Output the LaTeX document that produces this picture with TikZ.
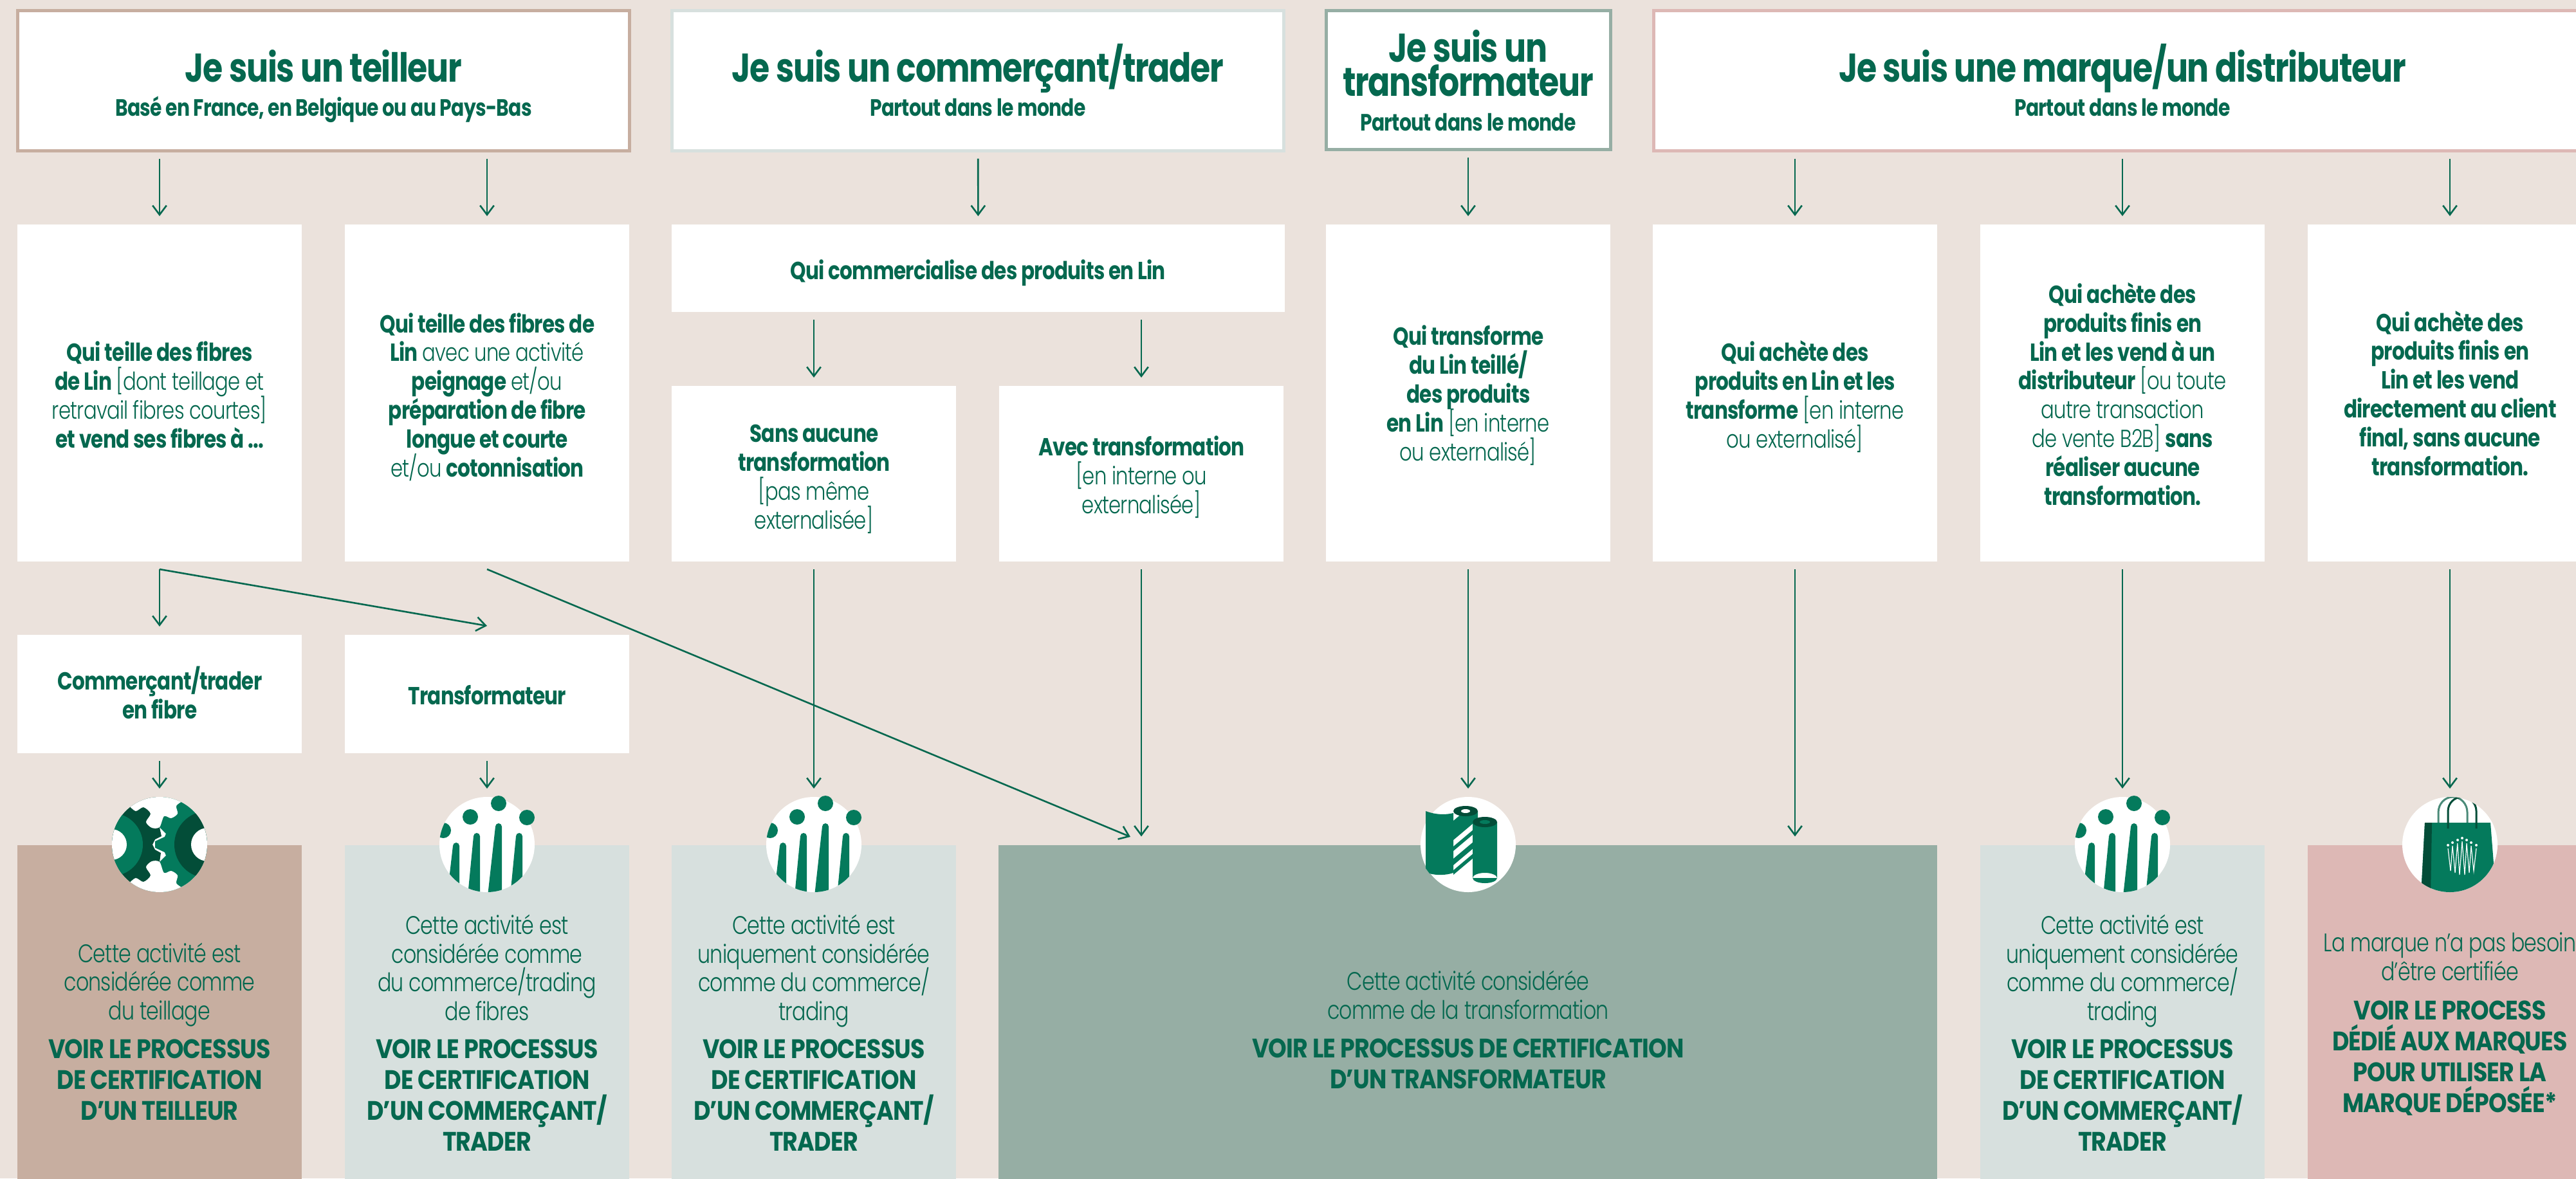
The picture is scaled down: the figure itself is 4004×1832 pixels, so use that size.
\documentclass[tikz,border=0pt]{standalone}
\usepackage{fontspec}
\setmainfont[FakeStretch=.8,LetterSpace=-2,BoldFont={Poppins Bold},BoldFeatures={FakeStretch=.81}]{Poppins Light}
\newfontfamily\capsf[FakeStretch=.875,LetterSpace=-2]{Poppins Bold}
\usetikzlibrary{arrows.meta,calc}
\definecolor{leaf}{HTML}{05684F}
\definecolor{iconleaf}{HTML}{047A5C}
\definecolor{icondark}{HTML}{034D38}
\definecolor{handle}{HTML}{4A8A78}
\definecolor{paper}{HTML}{EBE2DC}
\definecolor{flax}{HTML}{C7AEA0}
\definecolor{mist}{HTML}{D7E0DE}
\definecolor{sage}{HTML}{96AEA4}
\definecolor{blush}{HTML}{DDB8B5}
\lineskiplimit=-40pt
\tikzset{
   pics/gearicon/.style={code={
     \begin{scope}
       \clip (0,0) circle[radius=74];
       \fill[icondark] (-80,-80) -- (0,-80) -- (0,-27) -- (3,-13) -- (-7,-8) -- (-11,0)
         -- (-7,8) -- (2,13) -- (0,27) -- (0,80) -- (-80,80) -- cycle;
       \fill[iconleaf] (80,-80) -- (0,-80) -- (0,-27) -- (10,-17) -- (8,-12) -- (-7,-5)
         -- (-7,5) -- (8,12) -- (10,17) -- (0,27) -- (0,80) -- (80,80) -- cycle;
       \fill[iconleaf] (-75,0) circle[radius=49];
       \fill[icondark] (75,0) circle[radius=52];
       \fill[white] (-75,0) circle[radius=24] (75,0) circle[radius=26];
       \foreach \s in {1,-1}
         \fill[white] plot[smooth] coordinates {(-47,-60*\s) (-37,-52*\s) (-25,-58*\s)
           (-14,-48*\s) (-21,-35*\s) (-12,-26*\s) (0,-27*\s) (7,-44*\s) (18,-41*\s)
           (28,-48*\s) (26,-60*\s) (35,-67*\s)} -- (35,-80*\s) -- (-47,-80*\s) -- cycle;
     \end{scope}
   }},
   pics/peopleicon/.style={code={
     \begin{scope}
       \clip (0,0) circle[radius=74];
       \fill[iconleaf] (-68,-22) circle[radius=12];
       \foreach \tx/\ty/\lx/\rx in {-48/2/-62/-43,-16/-13/-30/-11,18/-28/1/23,50/-13/36/55}
         \fill[iconleaf] (\lx,80) -- (\tx-5,\ty) arc[start angle=180,end angle=360,radius=5]
           -- (\rx,80) -- cycle;
     \end{scope}
     \fill[iconleaf] (-26,-43) circle[radius=12] (18,-64) circle[radius=12]
       (62,-42) circle[radius=12];
   }},
   pics/rollicon/.style={code={
     % sheet on the left, striped roll, plain roll
     \fill[iconleaf] (-66,-52) .. controls (-50,-46) and (-35,-46) .. (-23,-49) -- (-23,44)
       .. controls (-35,48) and (-50,48) .. (-60,45) -- (-66,37) -- cycle;
     \begin{scope}
       \clip (-23,-52) rectangle (15,52);
       \foreach \ya/\yb in {-37/-7,3/10,22/32,40/47}
         \fill[iconleaf] (-23,\ya) -- (15,\ya-32) -- (15,\yb-32) -- (-23,\yb) -- cycle;
     \end{scope}
     \fill[icondark] (-4,-52) ellipse[x radius=19,y radius=8];
     \fill[white] (-4,-52) ellipse[x radius=7,y radius=3];
     \fill[iconleaf] (7,-35) rectangle (45,52) (26,52) ellipse[x radius=19,y radius=8];
     \fill[icondark] (26,-35) ellipse[x radius=19,y radius=8];
     \fill[iconleaf] (26,-35) ellipse[x radius=8,y radius=3];
   }},
   pics/bagicon/.style={code={
     \begin{scope}
       \clip (0,0) circle[radius=74];
       \draw[handle,line width=.75pt] (-18,-34) -- (-18,-50) arc[start angle=180,end angle=360,x radius=22.5,y radius=24] -- (27,-34);
       \fill[iconleaf] (-39,-34) -- (63,-34) -- (72,80) -- (-45,80) -- cycle;
       \fill[icondark] (-39,-34) -- (-28,-34) -- (-30,80) -- (-45,80) -- cycle;
       \draw[icondark,line width=.75pt] (-3,-25) -- (-3,-52) arc[start angle=180,end angle=360,x radius=22,y radius=22] -- (41,-25);
     \end{scope}
     \draw[white,line width=.3pt] (-3,6) -- (1,41) -- (4,2) -- (8,44) -- (11.7,-2) -- (15,47)
       -- (19,-5) -- (23,47) -- (26,-2) -- (30,44) -- (33,2) -- (37,41) -- (41,6);
     \foreach \dx/\dy in {-3/1,4/-3,12/-7,19/-10,26/-7,33/-3,41/1}
       \fill[white] (\dx,\dy) circle[radius=2];
   }}
}
\begin{document}
\begin{tikzpicture}[x=.25pt,y=-.25pt,
    headbox/.style={draw,fill=white,line width=1.25pt,inner sep=0,outer sep=0,
      minimum width=237.75pt,minimum height=54.5pt},
    wbox/.style={fill=white,inner sep=0,outer sep=0,minimum width=110.5pt},
    panel/.style={inner sep=0,outer sep=0,minimum width=110.5pt,minimum height=129.75pt},
    iconbg/.style={circle,fill=white,inner sep=0,outer sep=0,minimum size=37pt},
    arr/.style={draw=leaf,line width=.65pt,-{Straight Barb[length=3.6pt,width=5.4pt]},
      shorten <=3pt,shorten >=3.25pt},
    head/.style={anchor=base,align=center,inner sep=0,text=leaf,
      font=\fontsize{15.6}{13.25}\selectfont\bfseries},
    subhead/.style={anchor=base,align=center,inner sep=0,text=leaf,
      font=\fontsize{9.2}{13.25}\selectfont\bfseries},
    body/.style={anchor=base,align=center,inner sep=0,text=leaf,
      font=\fontsize{9.6}{11.2}\selectfont},
    note/.style={anchor=base,align=center,inner sep=0,text=leaf,
      font=\fontsize{9.9}{11.1}\selectfont},
    call/.style={anchor=base,align=center,inner sep=0,text=leaf,
      font=\fontsize{10.4}{12}\capsf},
   ]
   \fill[paper] (0,0) rectangle (4004,1832);
   \path[use as bounding box] (0,0) rectangle (4004,1832);
   \clip (0,0) rectangle (4004,1832);

   % head row
   \node[headbox,draw=flax] (t1) at (503,125.5) {};
   \node[headbox,draw=mist] (t2) at (1520,125.5) {};
   \node[headbox,draw=sage,minimum width=110.5pt,minimum height=54pt] (t3) at (2282.5,124.5) {};
   \node[headbox,draw=blush,minimum width=364.25pt] (t4) at (3299,125.5) {};
   \node[head] (t1a) at (503,127) {Je suis un teilleur};
   \node[subhead] (t1b) at (503,180) {Basé en France, en Belgique ou au Pays-Bas};
   \node[head] (t2a) at (1520,127) {Je suis un commerçant/trader};
   \node[subhead] (t2b) at (1520,180) {Partout dans le monde};
   \node[head] (t3a) at (2282,149) {Je suis un\\transformateur};
   \node[subhead] (t3b) at (2282,203) {Partout dans le monde};
   \node[head] (t4a) at (3299,127) {Je suis une marque/un distributeur};
   \node[subhead] (t4b) at (3299,180) {Partout dans le monde};

   % boxes under the heads
   \node[wbox,minimum height=131pt] (b1) at (248,611) {};
   \node[wbox,minimum height=131pt] (b2) at (757,611) {};
   \node[wbox,minimum width=238.25pt,minimum height=34pt] (b5) at (1520.5,417) {};
   \node[wbox,minimum height=68.25pt] (b6) at (1265,736.5) {};
   \node[wbox,minimum height=68.25pt] (b7) at (1774,736.5) {};
   \node[wbox,minimum height=131pt] (b8) at (2282,611) {};
   \node[wbox,minimum height=131pt] (b9) at (2790,611) {};
   \node[wbox,minimum height=131pt] (b10) at (3299,611) {};
   \node[wbox,minimum height=131pt] (b11) at (3808,611) {};
   \node[wbox,minimum height=46pt] (b3) at (248,1079) {};
   \node[wbox,minimum height=46pt] (b4) at (757,1079) {};
   \node[body] (b1t) at (248,696) {\textbf{Qui teille des fibres}\\\textbf{de Lin} [dont teillage et\\retravail fibres courtes]\\\textbf{et vend ses fibres à ...}};
   \node[body] (b2t) at (757,741) {\textbf{Qui teille des fibres de}\\\textbf{Lin} avec une activité\\\textbf{peignage} et/ou\\\textbf{préparation de fibre}\\\textbf{longue et courte}\\et/ou \textbf{cotonnisation}};
   \node[body] (b5t) at (1520,434) {\textbf{Qui commercialise des produits en Lin}};
   \node[body] (b6t) at (1265,822) {\textbf{Sans aucune}\\\textbf{transformation}\\{[}pas même\\externalisée]};
   \node[body] (b7t) at (1774,798) {\textbf{Avec transformation}\\{[}en interne ou\\externalisée]};
   \node[body] (b8t) at (2282,716) {\textbf{Qui transforme}\\\textbf{du Lin teillé/}\\\textbf{des produits}\\\textbf{en Lin} [en interne\\ou externalisé]};
   \node[body] (b9t) at (2790,696) {\textbf{Qui achète des}\\\textbf{produits en Lin et les}\\\textbf{transforme} [en interne\\ou externalisé]};
   \node[body] (b10t) at (3299,785) {\textbf{Qui achète des}\\\textbf{produits finis en}\\\textbf{Lin et les vend à un}\\\textbf{distributeur} [ou toute\\autre transaction\\de vente B2B] \textbf{sans}\\\textbf{réaliser aucune}\\\textbf{transformation.}};
   \node[body] (b11t) at (3808,739) {\textbf{Qui achète des}\\\textbf{produits finis en}\\\textbf{Lin et les vend}\\\textbf{directement au client}\\\textbf{final, sans aucune}\\\textbf{transformation.}};
   \node[body] (b3t) at (248,1117) {\textbf{Commerçant/trader}\\\textbf{en fibre}};
   \node[body] (b4t) at (757,1095) {\textbf{Transformateur}};

   % panels at the foot
   \node[panel,fill=flax] (p1) at (248,1573) {};
   \node[panel,fill=mist] (p2) at (757,1573) {};
   \node[panel,fill=mist] (p3) at (1265,1573) {};
   \node[panel,fill=sage,minimum width=364.75pt] (p4) at (2281.5,1573) {};
   \node[panel,fill=mist] (p5) at (3299,1573) {};
   \node[panel,fill=blush] (p6) at (3808,1573) {};
   \node[note] (p1a) at (248,1585) {Cette activité est\\considérée comme\\du teillage};
   \node[call] (p1b) at (248,1741) {VOIR LE PROCESSUS\\DE CERTIFICATION\\D’UN TEILLEUR};
   \node[note] (p2a) at (757,1586) {Cette activité est\\considérée comme\\du commerce/trading\\de fibres};
   \node[call] (p2b) at (757,1789) {VOIR LE PROCESSUS\\DE CERTIFICATION\\D’UN COMMERÇANT/\\TRADER};
   \node[note] (p3a) at (1265,1586) {Cette activité est\\uniquement considérée\\comme du commerce/\\trading};
   \node[call] (p3b) at (1265,1789) {VOIR LE PROCESSUS\\DE CERTIFICATION\\D’UN COMMERÇANT/\\TRADER};
   \node[note] (p4a) at (2282,1584) {Cette activité considérée\\comme de la transformation};
   \node[call] (p4b) at (2282,1692) {VOIR LE PROCESSUS DE CERTIFICATION\\D’UN TRANSFORMATEUR};
   \node[note] (p5a) at (3299,1586) {Cette activité est\\uniquement considérée\\comme du commerce/\\trading};
   \node[call] (p5b) at (3299,1789) {VOIR LE PROCESSUS\\DE CERTIFICATION\\D’UN COMMERÇANT/\\TRADER};
   \node[note] (p6a) at (3808,1524) {La marque n’a pas besoin\\d’être certifiée};
   \node[call] (p6b) at (3808,1729) {VOIR LE PROCESS\\DÉDIÉ AUX MARQUES\\POUR UTILISER LA\\MARQUE DÉPOSÉE*};

   % icons
   \node[iconbg] (ic1) at (248,1313) {};
   \node[iconbg] (ic2) at (757,1313) {};
   \node[iconbg] (ic3) at (1265,1313) {};
   \node[iconbg] (ic4) at (2282,1313) {};
   \node[iconbg] (ic5) at (3299,1313) {};
   \node[iconbg] (ic6) at (3808,1313) {};
   \path (ic1) pic {gearicon} (ic2) pic {peopleicon} (ic3) pic {peopleicon}
     (ic4) pic {rollicon} (ic5) pic {peopleicon} (ic6) pic {bagicon};

   % arrows
   \coordinate (fork1) at ($(b1.south)+(0,12)$);
   \coordinate (fork2) at ($(b2.south)+(0,12)$);
   \coordinate (diag) at (1757,1301);
   \coordinate (b4top) at ($(b4.north)+(0,-14)$);
   \draw[arr] (b1.north |- t1.south) -- (b1.north);
   \draw[arr] (b2.north |- t1.south) -- (b2.north);
   \draw[arr] (t2) -- (b5);
   \draw[arr] (b8.north |- t3.south) -- (b8.north);
   \foreach \n in {b9,b10,b11}
     \draw[arr] (\n.north |- t4.south) -- (\n.north);
   \draw[arr] (b6.north |- b5.south) -- (b6.north);
   \draw[arr] (b7.north |- b5.south) -- (b7.north);
   \draw[arr,shorten <=0pt] (fork1) -- (b3.north);
   \draw[arr,shorten <=0pt,shorten >=0pt] (fork1) -- (b4top);
   \draw[arr,shorten <=0pt,shorten >=0pt] (fork2) -- (diag);
   \draw[arr] (b3.south) -- (ic1.north);
   \draw[arr] (b4.south) -- (ic2.north);
   \draw[arr] (b6.south) -- (ic3.north);
   \draw[arr] (b7.south) -- (b7.south |- p4.north);
   \draw[arr] (b8.south) -- (ic4.north);
   \draw[arr] (b9.south) -- (b9.south |- p4.north);
   \draw[arr] (b10.south) -- (ic5.north);
   \draw[arr] (b11.south) -- (ic6.north);
\end{tikzpicture}
\end{document}
